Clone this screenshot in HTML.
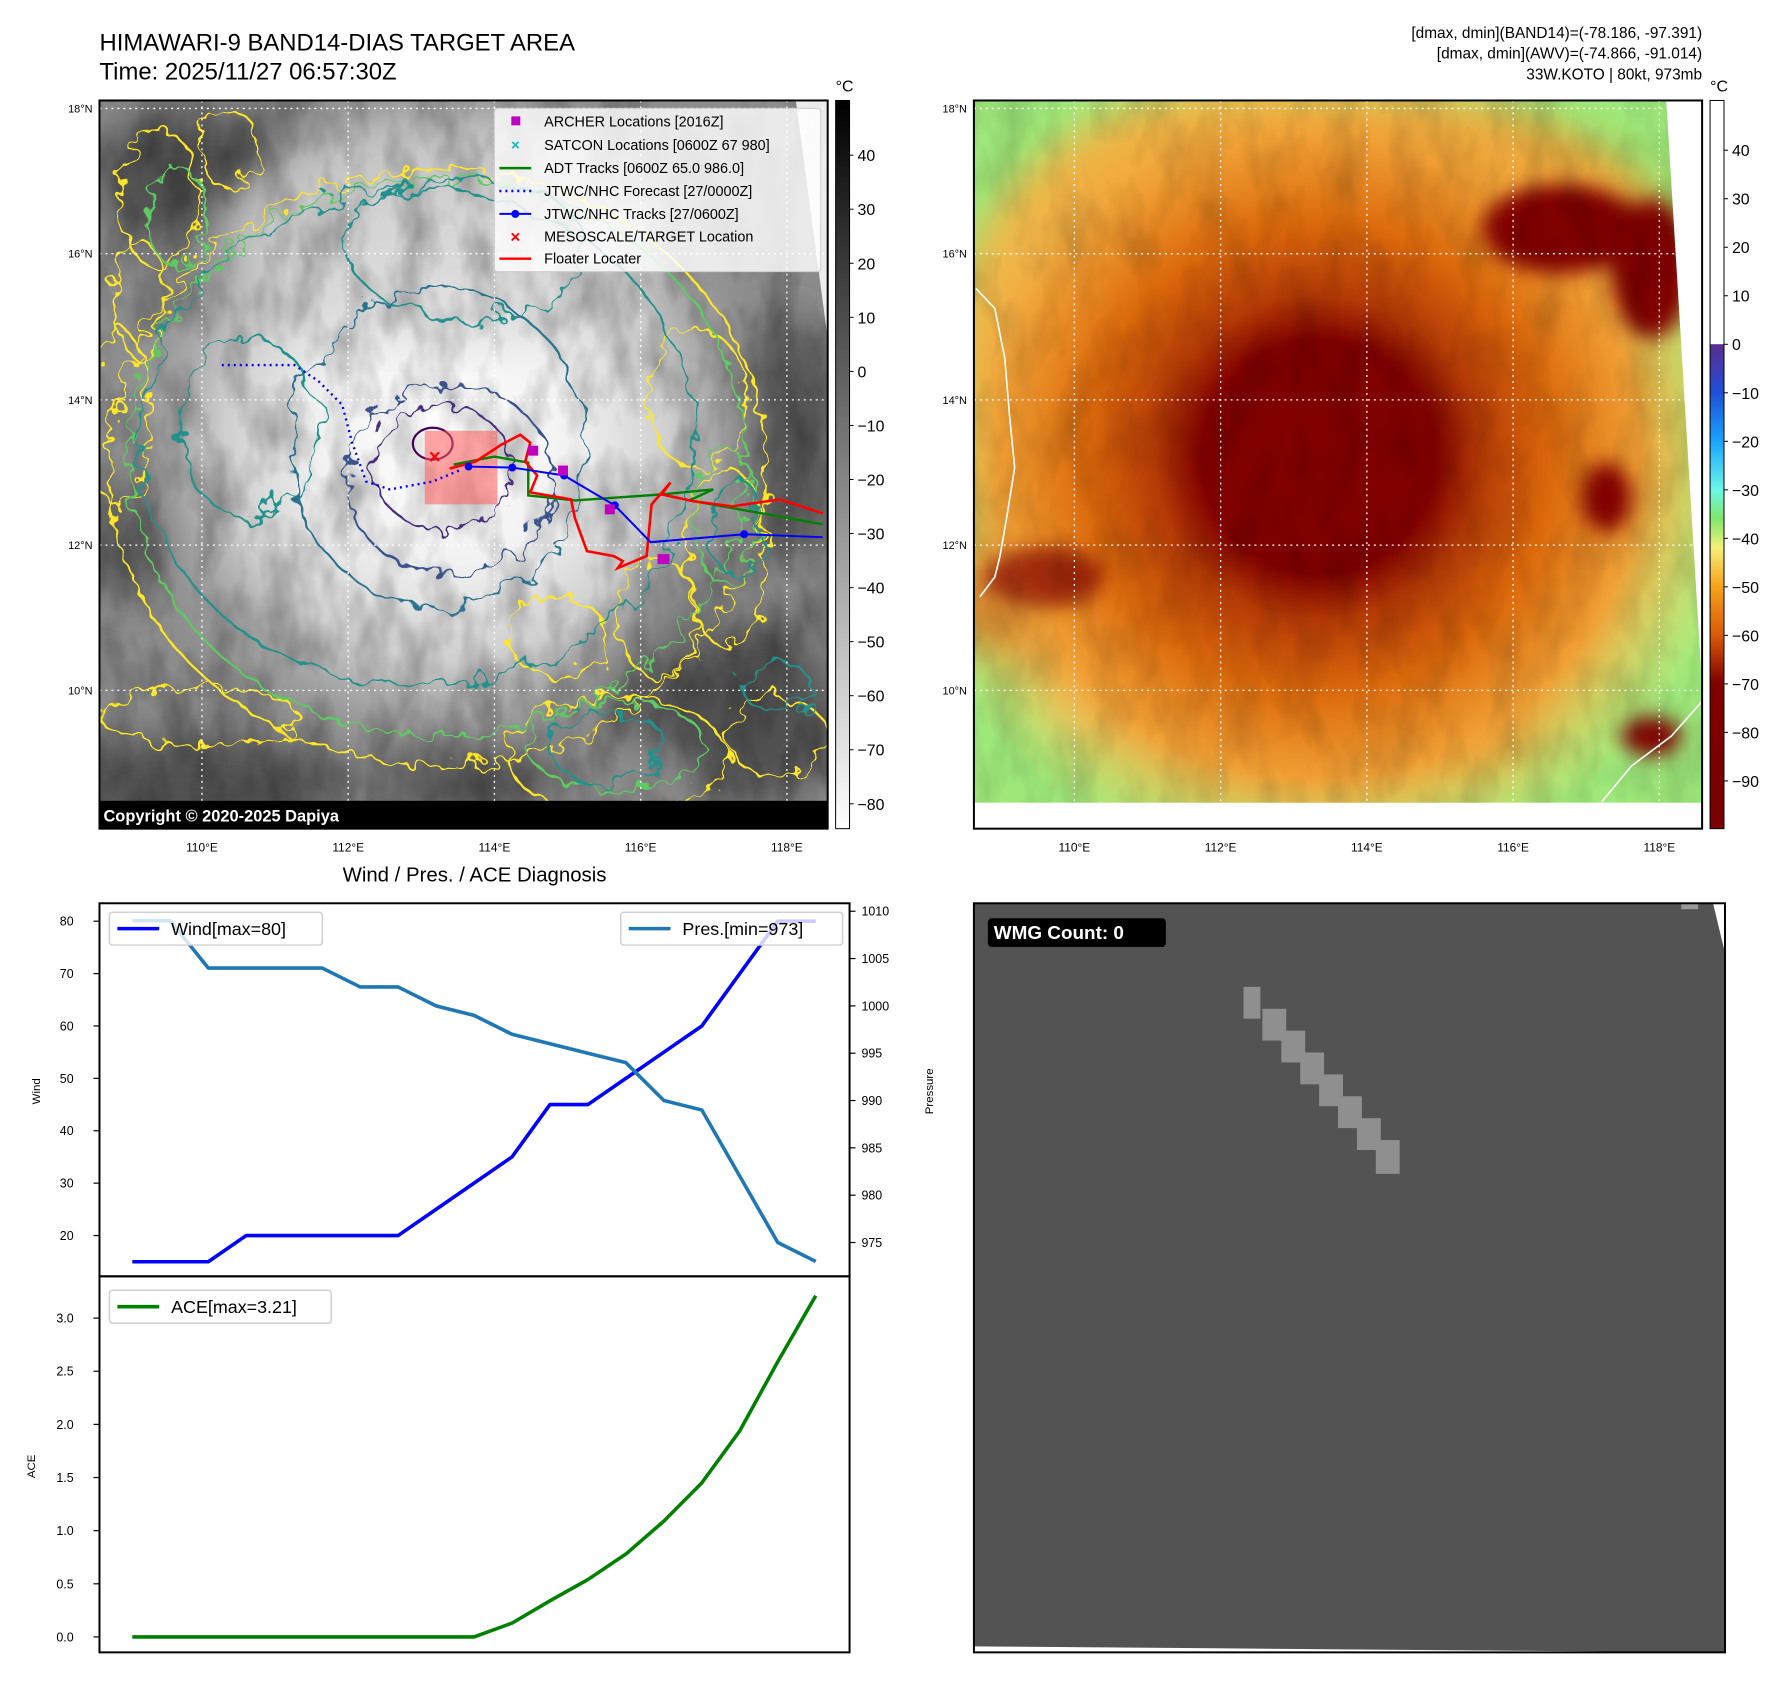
<!DOCTYPE html>
<html><head><meta charset="utf-8"><style>
html,body{margin:0;padding:0;background:#fff}
svg{display:block;font-family:"Liberation Sans","DejaVu Sans",sans-serif}
</style></head><body>
<svg id="page" width="1792" height="1690" viewBox="0 0 1792 1690" xmlns="http://www.w3.org/2000/svg">
<defs>
 <filter id="wig" x="-20%" y="-20%" width="140%" height="140%"><feTurbulence type="fractalNoise" baseFrequency="0.035" numOctaves="3" seed="3"/><feDisplacementMap in="SourceGraphic" scale="38"/></filter>
 <filter id="wig2" x="-20%" y="-20%" width="140%" height="140%"><feTurbulence type="fractalNoise" baseFrequency="0.06" numOctaves="2" seed="8"/><feDisplacementMap in="SourceGraphic" scale="30"/></filter>
 <filter id="blur"><feGaussianBlur stdDeviation="22"/></filter>
 <filter id="blur2"><feGaussianBlur stdDeviation="10"/></filter>
 <filter id="noise" x="0" y="0" width="100%" height="100%"><feTurbulence type="fractalNoise" baseFrequency="0.03 0.015" numOctaves="3" seed="5"/><feColorMatrix type="matrix" values="0 0 0 0 0  0 0 0 0 0  0 0 0 0 0  0 0 0 -1.6 1.0"/></filter>
 <clipPath id="cl"><rect x="100" y="101" width="732" height="732"/></clipPath>
 <clipPath id="cr"><rect x="979" y="101" width="732" height="706"/></clipPath>
 <radialGradient id="gw" cx="449" cy="440" r="360" gradientUnits="userSpaceOnUse">
  <stop offset="0" stop-color="#fff"/><stop offset="0.35" stop-color="#f2f2f2"/><stop offset="0.62" stop-color="#cfcfcf"/><stop offset="1" stop-color="#8a8a8a" stop-opacity="0"/></radialGradient>
 <linearGradient id="cbl" x1="0" y1="0" x2="0" y2="1"><stop offset="0" stop-color="#000"/><stop offset="1" stop-color="#fff"/></linearGradient>
 <linearGradient id="cbr" x1="0" y1="0" x2="0" y2="1">
  <stop offset="0" stop-color="#5a2d90"/><stop offset="0.1" stop-color="#1f4fd6"/><stop offset="0.2" stop-color="#1aa4ff"/><stop offset="0.3" stop-color="#6af7e8"/><stop offset="0.36" stop-color="#7fe86a"/><stop offset="0.42" stop-color="#f4f07a"/><stop offset="0.5" stop-color="#f7a21a"/><stop offset="0.6" stop-color="#d85a08"/><stop offset="0.7" stop-color="#800000"/><stop offset="1" stop-color="#7a0000"/></linearGradient>
 <radialGradient id="gr" cx="1325" cy="460" r="430" gradientUnits="userSpaceOnUse">
  <stop offset="0" stop-color="#7a0000"/><stop offset="0.27" stop-color="#800000"/><stop offset="0.38" stop-color="#b43a06"/><stop offset="0.55" stop-color="#dc6a0c"/><stop offset="0.75" stop-color="#f0a035"/><stop offset="1" stop-color="#f6dc6a" stop-opacity="0"/></radialGradient>
</defs>
<g transform="scale(0.9948)">
<!-- Titles -->
<text x="100" y="51" font-size="24" fill="#000">HIMAWARI-9 BAND14-DIAS TARGET AREA</text>
<text x="100" y="80" font-size="24" fill="#000">Time: 2025/11/27 06:57:30Z</text>
<g font-size="15.5" text-anchor="end" fill="#000">
 <text x="1711" y="38">[dmax, dmin](BAND14)=(-78.186, -97.391)</text>
 <text x="1711" y="59">[dmax, dmin](AWV)=(-74.866, -91.014)</text>
 <text x="1711" y="80">33W.KOTO | 80kt, 973mb</text>
</g>

<!-- LEFT MAP -->
<g clip-path="url(#cl)">
 <rect x="100" y="101" width="732" height="732" fill="#8c8c8c"/>
 <g filter="url(#blur)" fill="#505050">
  <ellipse cx="170" cy="180" rx="70" ry="70"/><ellipse cx="250" cy="160" rx="40" ry="50"/>
  <ellipse cx="200" cy="790" rx="150" ry="50"/><ellipse cx="650" cy="620" rx="70" ry="120"/>
  <ellipse cx="790" cy="440" rx="50" ry="120"/><ellipse cx="760" cy="720" rx="80" ry="90"/>
  <ellipse cx="470" cy="780" rx="90" ry="40"/><ellipse cx="130" cy="540" rx="40" ry="60"/>
 </g>
 <rect x="100" y="101" width="732" height="732" fill="url(#gw)"/>
 <ellipse cx="450" cy="230" rx="220" ry="120" fill="#d8d8d8" opacity="0.7" filter="url(#blur)"/>
 <rect x="100" y="101" width="732" height="732" filter="url(#noise)" opacity="0.35"/>
 <!-- contours -->
 <g fill="none" stroke-width="2.2">
  <g filter="url(#wig2)" stroke="#fde725">
   <ellipse cx="440" cy="470" rx="330" ry="300"/>
   <ellipse cx="160" cy="200" rx="40" ry="70"/><ellipse cx="230" cy="150" rx="30" ry="40"/>
   <ellipse cx="620" cy="760" rx="110" ry="60"/><ellipse cx="730" cy="560" rx="40" ry="90"/>
   <ellipse cx="660" cy="620" rx="40" ry="60"/><ellipse cx="200" cy="720" rx="100" ry="30"/>
   <ellipse cx="780" cy="740" rx="50" ry="40"/><ellipse cx="120" cy="420" rx="30" ry="90"/>
   <ellipse cx="700" cy="400" rx="50" ry="70"/><ellipse cx="560" cy="640" rx="50" ry="40"/>
   <ellipse cx="140" cy="300" rx="25" ry="60"/>
  </g>
  <g filter="url(#wig2)" stroke="#5ec962">
   <ellipse cx="440" cy="460" rx="310" ry="280"/><ellipse cx="620" cy="750" rx="90" ry="45"/>
   <ellipse cx="730" cy="520" rx="30" ry="70"/><ellipse cx="180" cy="220" rx="30" ry="50"/>
  </g>
  <g filter="url(#wig)" stroke="#21918c">
   <ellipse cx="420" cy="440" rx="280" ry="250"/><ellipse cx="610" cy="750" rx="60" ry="35"/>
   <ellipse cx="740" cy="530" rx="25" ry="50"/><ellipse cx="780" cy="690" rx="35" ry="25"/>
   <ellipse cx="470" cy="250" rx="120" ry="70"/><ellipse cx="250" cy="430" rx="70" ry="90"/>
  </g>
  <g filter="url(#wig)" stroke="#2c728e">
   <ellipse cx="440" cy="450" rx="150" ry="160"/>
  </g>
  <g filter="url(#wig2)" stroke="#3b528b">
   <ellipse cx="452" cy="482" rx="104" ry="96"/>
  </g>
  <g filter="url(#wig2)" stroke="#472d7b">
   <ellipse cx="445" cy="470" rx="70" ry="62"/>
  </g>
  <g stroke="#440154"><ellipse cx="435" cy="446" rx="20" ry="16"/></g>
 </g>
 <!-- grid -->
 <g stroke="#fff" stroke-width="1.3" stroke-dasharray="2,4">
  <line x1="203" y1="101" x2="203" y2="833"/><line x1="350" y1="101" x2="350" y2="833"/><line x1="497" y1="101" x2="497" y2="833"/><line x1="644" y1="101" x2="644" y2="833"/><line x1="791" y1="101" x2="791" y2="833"/>
  <line x1="100" y1="109" x2="832" y2="109"/><line x1="100" y1="255" x2="832" y2="255"/><line x1="100" y1="402" x2="832" y2="402"/><line x1="100" y1="548" x2="832" y2="548"/><line x1="100" y1="694" x2="832" y2="694"/>
 </g>
 <polygon points="800,101 832,101 832,340" fill="#fff" opacity="0.85"/>
 <rect x="427" y="433" width="73" height="74" fill="#ff5a5a" opacity="0.55"/>
 <polyline points="223,367 296,367 320,383 344,407 354,445 368,484 392,492 435,484 464,472" fill="none" stroke="#0000ff" stroke-width="2.4" stroke-dasharray="2,4"/>
 <polyline points="456,467 497,459 531,465 531,498 578,503 665,497 717,492 693,503 827,527" fill="none" stroke="#008000" stroke-width="2.4"/>
 <polyline points="452,471 478,464 504,447 523,437 533,445 528,464 540,478 533,495 574,502 578,521 590,554 617,559 626,564 621,571 650,559 655,507 674,485 665,497 698,504 736,509 784,502 827,516" fill="none" stroke="#ff0000" stroke-width="2.6"/>
 <g>
  <polyline points="471,469 515,470 567,478 618,508 654,545 748,537 827,540" fill="none" stroke="#0000ff" stroke-width="2"/>
  <g fill="#0000ff"><circle cx="471" cy="469" r="4"/><circle cx="515" cy="470" r="4"/><circle cx="567" cy="478" r="4"/><circle cx="618" cy="508" r="4"/><circle cx="748" cy="537" r="4"/></g>
 </g>
 <g fill="#c000c0"><rect x="531" y="448" width="10" height="10"/><rect x="561" y="468" width="10" height="10"/><rect x="608" y="507" width="10" height="10"/><rect x="661" y="557" width="12" height="10"/></g>
 <text x="437" y="466" font-size="20" font-weight="bold" fill="#ff0000" text-anchor="middle">×</text>
 <rect x="100" y="805" width="732" height="28" fill="#000"/>
 <text x="104" y="826" font-size="16.5" font-weight="bold" fill="#fff">Copyright © 2020-2025 Dapiya</text>
</g>
<rect x="100" y="101" width="732" height="732" fill="none" stroke="#000" stroke-width="2"/>
<!-- legend -->
<g font-size="14.5" fill="#000">
 <rect x="497" y="109" width="328" height="164" rx="3" fill="#fff" fill-opacity="0.82" stroke="#ccc"/>
 <rect x="514" y="117" width="9" height="9" fill="#c000c0"/><text x="547" y="127">ARCHER Locations [2016Z]</text>
 <text x="518" y="151" font-size="15" fill="#00bfbf" text-anchor="middle" font-weight="bold">×</text><text x="547" y="151">SATCON Locations [0600Z 67 980]</text>
 <line x1="502" y1="169" x2="534" y2="169" stroke="#008000" stroke-width="2.4"/><text x="547" y="174">ADT Tracks [0600Z 65.0 986.0]</text>
 <line x1="502" y1="192" x2="534" y2="192" stroke="#0000ff" stroke-width="2.4" stroke-dasharray="2,4"/><text x="547" y="197">JTWC/NHC Forecast [27/0000Z]</text>
 <line x1="502" y1="215" x2="534" y2="215" stroke="#0000ff" stroke-width="2"/><circle cx="518" cy="215" r="4" fill="#0000ff"/><text x="547" y="220">JTWC/NHC Tracks [27/0600Z]</text>
 <text x="518" y="244" font-size="17" fill="#ff0000" text-anchor="middle" font-weight="bold">×</text><text x="547" y="243">MESOSCALE/TARGET Location</text>
 <line x1="502" y1="260" x2="534" y2="260" stroke="#ff0000" stroke-width="2.4"/><text x="547" y="265">Floater Locater</text>
</g>
<g font-size="11" text-anchor="end" fill="#000">
 <text x="93" y="113">18°N</text><text x="93" y="259">16°N</text><text x="93" y="406">14°N</text><text x="93" y="552">12°N</text><text x="93" y="698">10°N</text></g>
<g font-size="12" text-anchor="middle" fill="#000">
 <text x="203" y="856">110°E</text><text x="350" y="856">112°E</text><text x="497" y="856">114°E</text><text x="644" y="856">116°E</text><text x="791" y="856">118°E</text></g>
<g>
 <rect x="840" y="101" width="14" height="732" fill="url(#cbl)" stroke="#000" stroke-width="1"/>
 <text x="849" y="92" font-size="16" text-anchor="middle">°C</text>
 <g font-size="16" fill="#000" id="cbl-ticks"></g>
</g>

<!-- RIGHT MAP -->
<g>
 <rect x="979" y="101" width="732" height="732" fill="#fff"/>
 <g clip-path="url(#cr)">
  <rect x="979" y="101" width="732" height="706" fill="#9ee87a"/>
  <g filter="url(#blur)">
   <ellipse cx="1240" cy="330" rx="270" ry="230" fill="#f0a030"/>
   <ellipse cx="1420" cy="250" rx="260" ry="140" fill="#e58a20"/>
   <ellipse cx="1070" cy="380" rx="70" ry="170" fill="#f2b850"/>
   <ellipse cx="1050" cy="600" rx="100" ry="60" fill="#b03a06"/>
   <ellipse cx="1250" cy="690" rx="200" ry="60" fill="#f6d070"/>
   <ellipse cx="1480" cy="720" rx="50" ry="40" fill="#d06010"/>
   <ellipse cx="1600" cy="500" rx="50" ry="80" fill="#d06010"/>
   <ellipse cx="1640" cy="590" rx="80" ry="90" fill="#a8ec80"/>
  </g>
  <rect x="979" y="101" width="732" height="706" fill="url(#gr)"/>
  <g filter="url(#blur2)" fill="#800000">
   <ellipse cx="1325" cy="450" rx="105" ry="100"/>
   <ellipse cx="1660" cy="270" rx="40" ry="70"/><ellipse cx="1570" cy="230" rx="80" ry="45"/>
   <ellipse cx="1615" cy="500" rx="25" ry="35"/><ellipse cx="1660" cy="740" rx="30" ry="20"/>
   <ellipse cx="1050" cy="580" rx="60" ry="30" opacity="0.7"/>
  </g>
  <rect x="979" y="101" width="732" height="706" filter="url(#noise)" opacity="0.18"/>
  <g stroke="#fff" stroke-width="1.3" stroke-dasharray="2,4">
   <line x1="1080" y1="101" x2="1080" y2="833"/><line x1="1227" y1="101" x2="1227" y2="833"/><line x1="1374" y1="101" x2="1374" y2="833"/><line x1="1521" y1="101" x2="1521" y2="833"/><line x1="1668" y1="101" x2="1668" y2="833"/>
   <line x1="979" y1="109" x2="1711" y2="109"/><line x1="979" y1="255" x2="1711" y2="255"/><line x1="979" y1="402" x2="1711" y2="402"/><line x1="979" y1="548" x2="1711" y2="548"/><line x1="979" y1="694" x2="1711" y2="694"/>
  </g>
  <polyline points="981,290 1000,310 1010,360 1015,420 1020,470 1012,520 1005,560 1000,580 985,600" fill="none" stroke="#fff" stroke-width="1.6"/>
  <polyline points="1610,806 1640,770 1680,740 1711,705" fill="none" stroke="#fff" stroke-width="1.6"/>
 </g>
 <polygon points="1675,101 1711,101 1711,690" fill="#fff"/>
 <rect x="979" y="101" width="732" height="732" fill="none" stroke="#000" stroke-width="2"/>
</g>
<g font-size="11" text-anchor="end" fill="#000">
 <text x="972" y="113">18°N</text><text x="972" y="259">16°N</text><text x="972" y="406">14°N</text><text x="972" y="552">12°N</text><text x="972" y="698">10°N</text></g>
<g font-size="12" text-anchor="middle" fill="#000">
 <text x="1080" y="856">110°E</text><text x="1227" y="856">112°E</text><text x="1374" y="856">114°E</text><text x="1521" y="856">116°E</text><text x="1668" y="856">118°E</text></g>
<g>
 <rect x="1719" y="101" width="14" height="245" fill="#fff"/>
 <rect x="1719" y="346" width="14" height="487" fill="url(#cbr)"/>
 <rect x="1719" y="101" width="14" height="732" fill="none" stroke="#000" stroke-width="1"/>
 <text x="1728" y="92" font-size="16" text-anchor="middle">°C</text>
 <g font-size="16" fill="#000" id="cbr-ticks"></g>
</g>

<!-- DIAGNOSIS CHART -->
<text x="477" y="886" font-size="20.5" text-anchor="middle">Wind / Pres. / ACE Diagnosis</text>
<g id="chart"></g>

<!-- WMG PANEL -->
<g>
 <rect x="979" y="908" width="755" height="753" fill="#535353"/>
 <polygon points="1722,908 1734,908 1734,958" fill="#fff"/>
 <rect x="1690" y="908" width="17" height="6" fill="#999"/>
 <polygon points="979,1655 1734,1661 979,1661" fill="#fff"/>
 <g id="wmg-blocks" fill="#8f8f8f"></g>
 <rect x="979" y="908" width="755" height="753" fill="none" stroke="#000" stroke-width="2"/>
 <rect x="993" y="923" width="179" height="29" rx="4" fill="#000"/>
 <text x="999" y="944" font-size="19" font-weight="bold" fill="#fff">WMG Count: 0</text>
</g>
</g>
</svg>
<script>
const windVals = [15,15,15,20,20,20,20,20,25,30,35,45,45,50,55,60,70,80,80];
const presVals = [1009,1009,1004,1004,1004,1004,1002,1002,1000,999,997,996,995,994,990,989,982,975,973];
const aceVals = [0,0,0,0,0,0,0,0,0,0,0.13,0.34,0.54,0.78,1.09,1.45,1.94,2.59,3.21];
const windTicks = [20,30,40,50,60,70,80];
const presTicks = [975,980,985,990,995,1000,1005,1010];
const aceTicks = [0.0,0.5,1.0,1.5,2.0,2.5,3.0];
const leftCbTicks = [40,30,20,10,0,-10,-20,-30,-40,-50,-60,-70,-80];
const rightCbTicks = [40,30,20,10,0,-10,-20,-30,-40,-50,-60,-70,-80,-90];

const NS='http://www.w3.org/2000/svg';
function mk(tag, attrs, parent){const e=document.createElementNS(NS,tag);for(const k in attrs)e.setAttribute(k,attrs[k]);parent.appendChild(e);return e;}
const xS = i => 133 + i*(820-133)/(windVals.length-1);
const yWind = v => 1242 - (v-20)*(1242-926)/60;
const yPres = v => 1249 - (v-975)*(1249-916)/35;
const yAce = v => 1645.5 - v*(1645.5-1325)/3;
const ch = document.getElementById('chart');

let f1 = mk('rect',{x:100,y:908,width:754,height:375,fill:'none',stroke:'#000','stroke-width':2},ch);


let f2 = mk('rect',{x:100,y:1283,width:754,height:378,fill:'none',stroke:'#000','stroke-width':2},ch);



windTicks.forEach(t=>{const y=yWind(t);mk('line',{x1:94,y1:y,x2:100,y2:y,stroke:'#000','stroke-width':1.2},ch);
 const tx=mk('text',{x:74,y:y+4.5,'font-size':12.5,'text-anchor':'end'},ch);tx.textContent=t;
 
 });
presTicks.forEach(t=>{const y=yPres(t);mk('line',{x1:854,y1:y,x2:860,y2:y,stroke:'#000','stroke-width':1.2},ch);
 const tx=mk('text',{x:866,y:y+4.5,'font-size':12.5},ch);tx.textContent=t;
 
 });
aceTicks.forEach(t=>{const y=yAce(t);mk('line',{x1:94,y1:y,x2:100,y2:y,stroke:'#000','stroke-width':1.2},ch);
 const tx=mk('text',{x:74,y:y+4.5,'font-size':12.5,'text-anchor':'end'},ch);tx.textContent=t.toFixed(1);
 
 });

function lab(txt,x,y,name){const t=mk('text',{x:x,y:y,'font-size':11.5,'text-anchor':'middle',transform:`rotate(-90 ${x} ${y})`},ch);t.textContent=txt;
 
 }
lab('Wind',40,1097,'wind-axis-title');lab('Pressure',938,1097,'pressure-axis-title');lab('ACE',35,1474,'ace-axis-title');

const pl = (vals,yf,color,name)=>{const p=mk('polyline',{points:vals.map((v,i)=>xS(i)+','+yf(v)).join(' '),fill:'none',stroke:color,'stroke-width':3.6,'stroke-linejoin':'round'},ch);
 
 };
pl(windVals,yWind,'#0000ff','wind-line');
pl(presVals,yPres,'#1f77b4','pressure-line');
pl(aceVals,yAce,'#008000','ace-line');

function legend(x,y,w,color,txt,name){const g=mk('g',{},ch);
 
 
 mk('rect',{x:x,y:y,width:w,height:33,rx:3,fill:'#fff','fill-opacity':0.8,stroke:'#d0d0d0','stroke-width':1.5},g);
 mk('line',{x1:x+8,y1:y+16.5,x2:x+50,y2:y+16.5,stroke:color,'stroke-width':3.6},g);
 const t=mk('text',{x:x+62,y:y+23,'font-size':18},g);t.textContent=txt;}
legend(110,917,214,'#0000ff','Wind[max='+Math.max(...windVals)+']','wind-legend');
legend(624,917,223,'#1f77b4','Pres.[min='+Math.min(...presVals)+']','pressure-legend');
legend(110,1297,223,'#008000','ACE[max='+Math.max(...aceVals)+']','ace-legend');

const cl=document.getElementById('cbl-ticks');
leftCbTicks.forEach(t=>{const y=156+(40-t)*(808-156)/120;mk('line',{x1:854,y1:y,x2:858,y2:y,stroke:'#000'},cl);
 const tx=mk('text',{x:862,y:y+6},cl);tx.textContent=(t<0?'\u2212'+(-t):t);
 
 });
const cr=document.getElementById('cbr-ticks');
rightCbTicks.forEach(t=>{const y=151+(40-t)*(785-151)/130;mk('line',{x1:1733,y1:y,x2:1737,y2:y,stroke:'#000'},cr);
 const tx=mk('text',{x:1741,y:y+6},cr);tx.textContent=(t<0?'\u2212'+(-t):t);
 
 });

const wb=document.getElementById('wmg-blocks');
for(let i=0;i<8;i++){const r=mk('rect',{x:1250+i*19,y:992+i*22,width:i==0?17:24,height:i==7?34:32},wb);
 
 }
</script>
</body></html>
